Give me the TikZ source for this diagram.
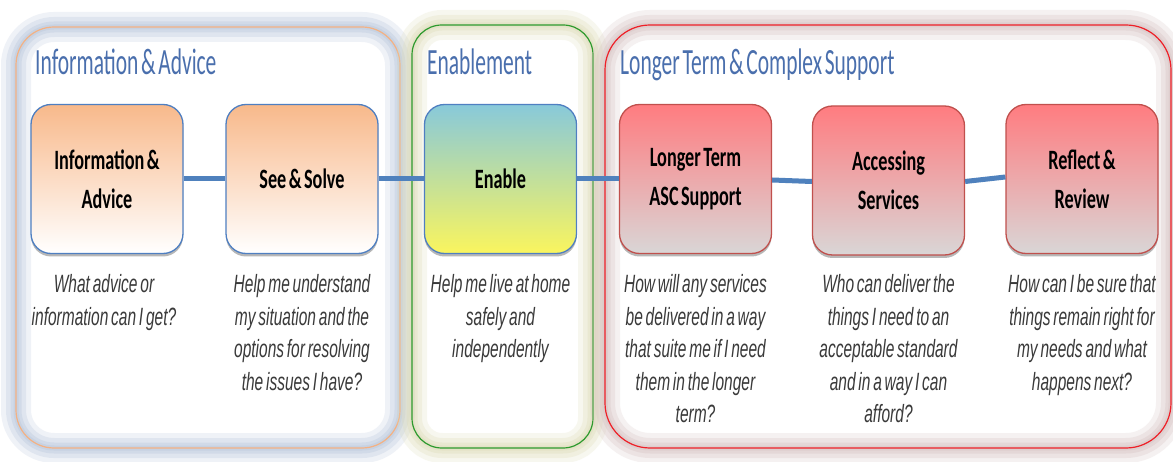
\documentclass[tikz,border=0pt]{standalone}
\usepackage{fontspec}
\usetikzlibrary{shadows}
\newfontfamily\headfont[FakeStretch=0.58, WordSpace=0.55]{Carlito}
\newfontfamily\stepfont[FakeStretch=0.65, WordSpace=0.6]{Carlito}
\newfontfamily\notefont[FakeStretch=0.62, WordSpace=0.65]{Liberation Sans}

\definecolor{titleblue}{HTML}{4A6FAD}
\definecolor{infohalo}{HTML}{B9C6DB}
\definecolor{infoline}{HTML}{F4B183}
\definecolor{enahalo}{HTML}{DEDCB8}
\definecolor{enaline}{HTML}{2E9A2E}
\definecolor{ltchalo}{HTML}{D6C2C2}
\definecolor{ltcline}{HTML}{EE2028}
\definecolor{stepblue}{HTML}{4F7FC1}
\definecolor{stepred}{HTML}{C0504D}
\definecolor{orangetop}{HTML}{F8B98B}
\definecolor{orangemid}{HTML}{FBD6BA}
\definecolor{enatop}{HTML}{88C9DA}
\definecolor{enamid}{HTML}{D8EB92}
\definecolor{enabot}{HTML}{FAF55E}
\definecolor{redtop}{HTML}{FF7C80}
\definecolor{redmid}{HTML}{EDB2B5}
\definecolor{redbot}{HTML}{D9D6D6}
\definecolor{connblue}{HTML}{4F81BD}
\definecolor{notegrey}{HTML}{3A3A3A}

\begin{document}
\begin{tikzpicture}[x=1pt,y=1pt,
  frame/.style={rectangle, inner sep=0pt, line width=1.2pt},
  glow/.style={
    preaction={draw=#1, draw opacity=0.22, line width=30pt},
    preaction={draw=#1, draw opacity=0.28, line width=20pt},
    preaction={draw=#1, draw opacity=0.35, line width=11pt},
    preaction={draw=#1, draw opacity=0.4, line width=5pt}},
  title/.style={font=\headfont\fontsize{37}{40}\selectfont, text=titleblue, inner sep=0pt, anchor=base west},
  stepbox/.style={rectangle, rounded corners=20pt, minimum width=152pt, minimum height=149pt,
    inner sep=2pt, line width=1.3pt, align=center, text=black,
    font=\stepfont\bfseries\fontsize{28}{39}\selectfont,
    drop shadow={shadow xshift=0pt, shadow yshift=-3pt, opacity=0.4, fill=black!70}},
  orangestep/.style={stepbox, draw=stepblue, top color=orangetop, middle color=orangemid, bottom color=white},
  enastep/.style={stepbox, draw=stepblue, top color=enatop, middle color=enamid, bottom color=enabot},
  redstep/.style={stepbox, draw=stepred, top color=redtop, middle color=redmid, bottom color=redbot},
  conn/.style={draw=connblue, line width=5pt},
  note/.style={anchor=base, text width=180pt, align=flush center, inner sep=0pt,
    font=\notefont\itshape\fontsize{25}{32.5}\selectfont, text=notegrey}]

\useasboundingbox (0,0) rectangle (1173,-462);
\fill[white] (0,0) rectangle (1173,-462);

% group frames with their soft halos
\node[frame, draw=infoline, rounded corners=38pt, minimum width=384pt, minimum height=421pt,
  glow=infohalo] (grpinfo) at (208,-237.5) {};
\node[frame, draw=enaline, rounded corners=30pt, minimum width=181pt, minimum height=423pt,
  glow=enahalo] (grpena) at (502.5,-236.5) {};
\node[frame, draw=ltcline, rounded corners=45pt, minimum width=566pt, minimum height=423pt,
  glow=ltchalo] (grpltc) at (888,-236.5) {};

% group titles
\node[title] (tinfo) at (35,-75) {Information \& Advice};
\node[title] (tena) at (427,-75) {Enablement};
\node[title] (tltc) at (620,-75) {Longer Term \& Complex Support};

% steps
\node[orangestep] (s1) at (107,-179) {Information \&\\Advice};
\node[orangestep] (s2) at (302,-179) {See \& Solve};
\node[enastep]    (s3) at (500.5,-179) {Enable};
\node[redstep]    (s4) at (695.5,-179) {Longer Term\\ASC Support};
\node[redstep]    (s5) at (888.5,-180.5) {Accessing\\Services};
\node[redstep]    (s6) at (1082,-179) {Reflect \&\\Review};

% connectors between steps
\draw[conn] (s1.east) -- (s2.west);
\draw[conn] (s2.east) -- (s3.west);
\draw[conn] (s3.east) -- (s4.west);
\draw[conn] ([yshift=-1pt]s4.east) -- ([yshift=-1pt]s5.west);
\draw[conn] ([yshift=-1pt]s5.east) -- ([yshift=2pt]s6.west);

% questions under each step
\coordinate (noteline) at (0,-293);
\node[note] (q1) at ([xshift=-3pt]s1 |- noteline) {What advice or\\information can I get?};
\node[note] (q2) at (s2 |- noteline) {Help me understand\\my situation and the\\options for resolving\\the issues I have?};
\node[note] (q3) at (s3 |- noteline) {Help me live at home\\safely and\\independently};
\node[note] (q4) at (s4 |- noteline) {How will any services\\be delivered in a way\\that suite me if I need\\them in the longer\\term?};
\node[note] (q5) at (s5 |- noteline) {Who can deliver the\\things I need to an\\acceptable standard\\and in a way I can\\afford?};
\node[note] (q6) at (s6 |- noteline) {How can I be sure that\\things remain right for\\my needs and what\\happens next?};
\end{tikzpicture}
\end{document}
